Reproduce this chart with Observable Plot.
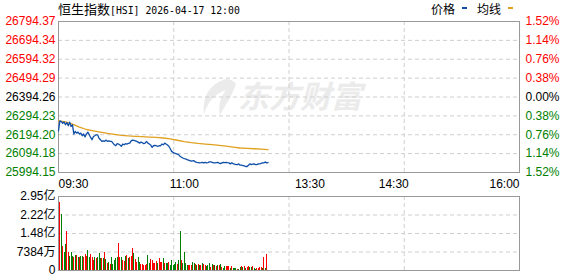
<!DOCTYPE html>
<html lang="zh">
<head>
<meta charset="utf-8">
<script src="https://cdn.jsdelivr.net/npm/d3@7"></script>
<script src="https://cdn.jsdelivr.net/npm/@observablehq/plot@0.6"></script>
<style>
html,body{margin:0;padding:0;background:#fff;}
#wrap{position:relative;width:578px;height:276px;overflow:hidden;}
#price,#vol{position:absolute;left:0;}
#price{top:0;}
#vol{top:190px;}
.abs{position:absolute;white-space:nowrap;color:#000;}
#title{left:58px;top:0;line-height:18px;}
#title .cjk{font-family:"Noto Sans CJK SC";font-size:13px;}
#title .mono{font-family:"DejaVu Sans Mono";font-size:9.8px;}
.lg{top:0;line-height:18px;font-family:"Noto Sans CJK SC";font-size:12px;}
.sw{position:absolute;top:7px;width:5px;height:2px;}
#wm{left:238px;top:73px;font-family:"Noto Sans CJK SC";font-weight:bold;font-style:italic;font-size:31px;color:#ebebeb;line-height:44px;}
#wmicon{position:absolute;left:196px;top:76px;}
</style>
</head>
<body>
<div id="wrap">
  <svg id="wmicon" width="42" height="42" viewBox="0 0 42 42"><path d="M30 3 C14 8 6 20 8 38 C12 26 18 18 30 14 C24 22 22 30 24 39 C30 28 36 20 40 8 C38 5 34 3 30 3 Z" fill="#ebebeb"/></svg>
  <div id="wm" class="abs">东方财富</div>
  <div id="price"></div>
  <div id="vol"></div>
  <div id="title" class="abs"><span class="cjk">恒生指数</span><span class="mono">[HSI] 2026-04-17 12:00</span></div>
  <div class="abs lg" style="left:431px">价格</div>
  <div class="sw" style="left:462px;background:#0f4fa8"></div>
  <div class="abs lg" style="left:477px">均线</div>
  <div class="sw" style="left:508px;background:#e0a020"></div>
</div>
<script>
// ---- data ----
const prevClose = 26394.26;
const priceLevels = [26794.37, 26694.34, 26594.32, 26494.29, 26394.26, 26294.23, 26194.20, 26094.18, 25994.15];
const pctLabels = ["1.52%", "1.14%", "0.76%", "0.38%", "0.00%", "0.38%", "0.76%", "1.14%", "1.52%"];
const sessionMinutes = 330; // 09:30-12:00 + 13:00-16:00
const timeTicks = [0, 90, 180, 240, 330];
const timeLabels = ["09:30", "11:00", "13:30", "14:30", "16:00"];

// minute-by-minute price from 09:30 (t=0) to 12:00 (t=150)
const price = [
26215,26268,26264,26255,26262,26247,26259,26242,26261,26238,
26247,26198,26212,26203,26208,26198,26203,26189,26198,26183,
26199,26208,26194,26180,26168,26185,26189,26194,26194,26176,
26168,26159,26162,26159,26166,26159,26162,26159,26159,26150,
26141,26136,26147,26145,26140,26133,26145,26141,26147,26145,
26148,26150,26162,26166,26164,26162,26159,26155,26150,26155,
26152,26147,26150,26159,26150,26145,26140,26127,26136,26138,
26136,26133,26136,26135,26145,26141,26150,26145,26140,26133,
26120,26106,26101,26097,26094,26091,26089,26080,26075,26071,
26068,26066,26062,26060,26057,26054,26056,26057,26050,26048,
26047,26045,26046,26048,26045,26048,26045,26047,26050,26050,
26048,26045,26045,26047,26048,26044,26041,26045,26048,26047,
26048,26046,26045,26040,26045,26041,26038,26036,26036,26040,
26033,26033,26031,26029,26026,26026,26033,26040,26036,26038,
26040,26036,26036,26040,26040,26042,26045,26045,26050,26045,
26047];

// average line, read every 5 minutes
const avgMinutes = [0,5,10,15,20,25,30,35,40,45,50,55,60,65,70,75,80,85,90,95,100,105,110,115,120,125,130,135,140,145,150];
const avgPrice = [26268,26262,26250,26235,26222,26215,26208,26201,26196,26191,26188,26186,26184,26182,26180,26177,26172,26165,26158,26152,26148,26145,26142,26138,26134,26129,26124,26122,26120,26118,26115];

// volume per minute (millions), and whether the minute closed up (1) or down (0)
const volume = [
200,270.7,224,97.3,70.7,104,154.7,70.7,57.3,70.7,
54.7,50.7,60,60,53.3,53.3,57.3,57.3,53.3,64,
57.3,80,53.3,64,50.7,41.3,53.3,49.3,50.7,66.7,
48,
48,48,70.7,44,28,30.7,24,53.3,24,41.3,
48,50.7,106.7,53.3,50.7,41.3,37.3,57.3,60,48,
53.3,57.3,86.7,66.7,44,33.3,53.3,30.7,24,24,
21.3,
20,24,60,28,44,41.3,28,28,34.7,28,
46.7,30.7,30.7,46.7,28,
28,28,33.3,20,40,20,
24,
30.7,24,41.3,154.7,40,28,70.7,28,20,
20,20,20,30.7,28,24,20,24,21.3,20,
26.7,24,20,14.7,21.3,28,10.7,24,20,21.3,
14.7,20,20,24,10.7,
8,
14.7,17.3,17.3,17.3,8,
14.7,8,8,8,4,4,13.3,17.3,10.7,17.3,
8,13.3,17.3,13.3,10.7,14.7,8,4,8,8,
10.7,13.3,8,50.7,8,64];
const volumeUp = [
0,1,0,1,0,0,1,1,0,0,
0,1,0,1,0,1,0,0,1,1,
1,0,0,1,1,1,0,1,0,0,
0,
1,0,1,0,1,0,1,0,0,0,
0,0,1,1,0,1,1,0,1,0,
1,1,1,0,1,1,0,0,1,1,
1,
1,1,0,0,1,1,1,1,1,0,
1,1,1,0,1,
0,0,1,0,0,0,
0,
0,1,0,0,1,0,0,0,0,
1,1,1,0,0,1,0,1,0,1,
0,1,1,0,0,0,1,0,1,0,
1,0,1,0,1,
0,
0,1,1,1,0,
1,0,0,0,1,0,0,1,0,1,
0,1,1,0,0,1,0,0,1,1,
1,1,0,1,0,1];
const volTicks = [0, 73.84, 147.68, 221.52, 295.36];
const volTickLabels = ["0", "7384万", "1.48亿", "2.22亿", "2.95亿"];

// ---- derived tables ----
const priceSeries = price.map((v, i) => ({t: i, v}));
const avgSeries = avgPrice.map((v, i) => ({t: avgMinutes[i], v}));
const volSeries = volume.map((v, i) => ({t: i, v, up: volumeUp[i]}));
const gridMinutes = [1, 2, 3].map(k => sessionMinutes * k / 4);

const RED = "#ff0000", GREEN = "#008000", BLACK = "#000000";
const levelColor = v => v > prevClose + 0.001 ? RED : v < prevClose - 0.001 ? GREEN : BLACK;
const font = '"Liberation Sans", Arial, "Noto Sans CJK SC", sans-serif';
const gridStyle = {stroke: "#cfcfcf", strokeDasharray: "4,3", strokeWidth: 1};

const priceChart = Plot.plot({
  width: 578, height: 190,
  marginLeft: 58, marginRight: 59, marginTop: 21, marginBottom: 18,
  x: {domain: [0, sessionMinutes], axis: null},
  y: {domain: [priceLevels[priceLevels.length - 1], priceLevels[0]], axis: null},
  style: {fontFamily: font, fontSize: "12px", background: "transparent", overflow: "visible"},
  marks: [
    Plot.ruleY(priceLevels.slice(1, -1), gridStyle),
    Plot.ruleX(gridMinutes, gridStyle),
    Plot.frame({stroke: "#999999"}),
    Plot.line(avgSeries, {x: "t", y: "v", stroke: "#e0a020", strokeWidth: 1.3}),
    Plot.line(priceSeries, {x: "t", y: "v", stroke: "#0f4fa8", strokeWidth: 1.3}),
    Plot.text(priceLevels, {x: () => 0, y: d => d, text: d => d.toFixed(2), textAnchor: "end", dx: -3, fill: d => levelColor(d), fontSize: 12}),
    Plot.text(priceLevels, {x: () => sessionMinutes, y: d => d, text: (d, i) => pctLabels[i], textAnchor: "start", dx: 6, fill: d => levelColor(d), fontSize: 12}),
    Plot.text([timeTicks[0]], {x: d => d, y: () => priceLevels[priceLevels.length - 1], text: () => timeLabels[0], textAnchor: "start", dy: 12, fill: "#000", fontSize: 12}),
    Plot.text(timeTicks.slice(1, -1), {x: d => d, y: () => priceLevels[priceLevels.length - 1], text: (d, i) => timeLabels[i + 1], textAnchor: "middle", dy: 12, fill: "#000", fontSize: 12}),
    Plot.text([timeTicks[timeTicks.length - 1]], {x: d => d, y: () => priceLevels[priceLevels.length - 1], text: () => timeLabels[timeLabels.length - 1], textAnchor: "end", dy: 12, fill: "#000", fontSize: 12})
  ]
});
document.getElementById("price").append(priceChart);

const volChart = Plot.plot({
  width: 578, height: 86,
  marginLeft: 58, marginRight: 59, marginTop: 6, marginBottom: 6,
  x: {domain: [0, sessionMinutes], axis: null},
  y: {domain: [0, volTicks[volTicks.length - 1]], axis: null},
  style: {fontFamily: font, fontSize: "12px", background: "transparent", overflow: "visible"},
  marks: [
    Plot.ruleY(volTicks.slice(1, -1), gridStyle),
    Plot.ruleX(gridMinutes, gridStyle),
    Plot.ruleX(volSeries, {x: "t", y1: () => 0, y2: "v", stroke: d => d.up ? RED : GREEN, strokeWidth: 1, shapeRendering: "crispEdges"}),
    Plot.frame({stroke: "#999999"}),
    Plot.text(volTicks, {x: () => 0, y: d => d, text: (d, i) => volTickLabels[i], textAnchor: "end", dx: -3, fill: "#000", fontSize: 12})
  ]
});
document.getElementById("vol").append(volChart);
</script>
</body>
</html>
